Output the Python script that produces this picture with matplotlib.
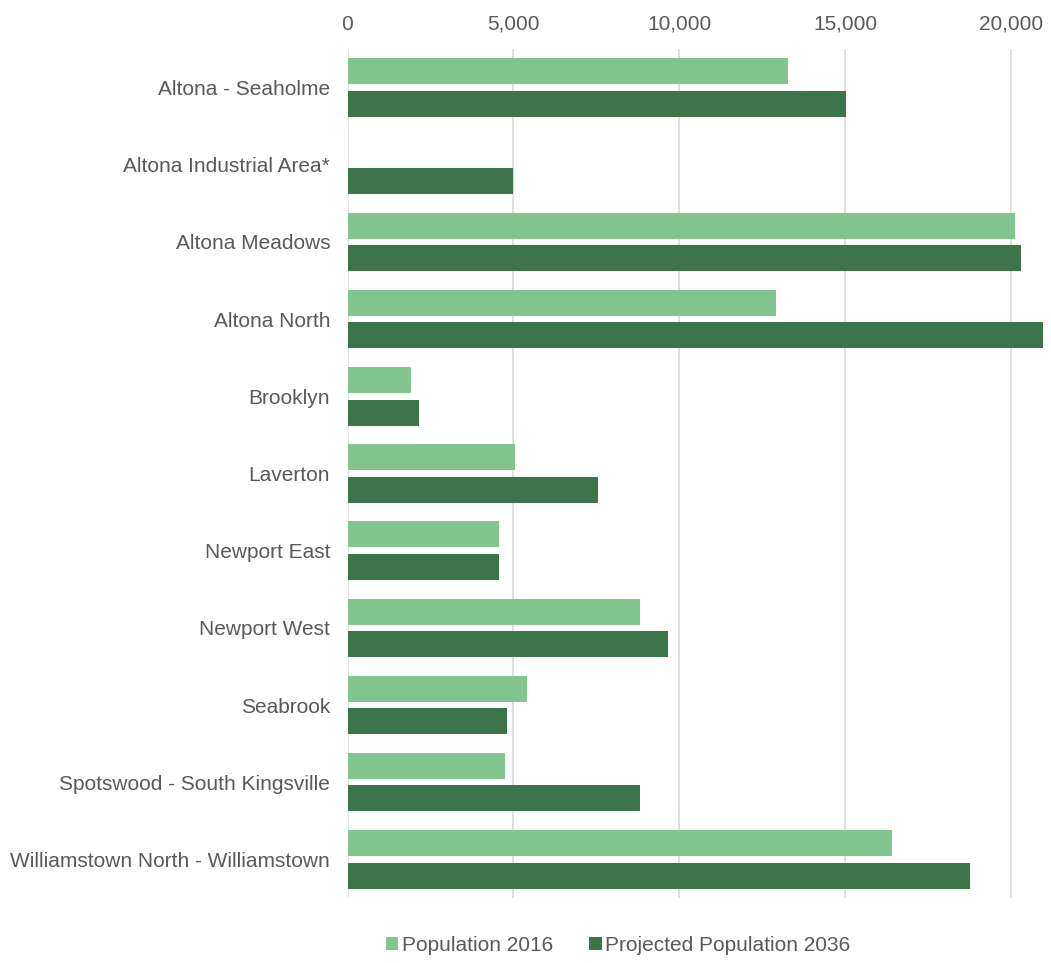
import matplotlib
matplotlib.use("Agg")
import matplotlib.pyplot as plt
import numpy as np
from matplotlib.ticker import FuncFormatter

plt.rcParams["font.family"] = ["Liberation Sans", "DejaVu Sans"]

areas = [
    "Altona - Seaholme",
    "Altona Industrial Area*",
    "Altona Meadows",
    "Altona North",
    "Brooklyn",
    "Laverton",
    "Newport East",
    "Newport West",
    "Seabrook",
    "Spotswood - South Kingsville",
    "Williamstown North - Williamstown",
]
pop_2016 = [13280, 0, 20140, 12930, 1920, 5060, 4580, 8830, 5400, 4760, 16420]
pop_2036 = [15040, 4990, 20320, 20960, 2170, 7540, 4580, 9670, 4820, 8830, 18760]

LIGHT = "#82C58F"
DARK = "#3B7549"
TEXT = "#595959"
GRID = "#D9D9D9"

fig = plt.figure(figsize=(10.51, 9.63), dpi=100)
ax = fig.add_axes([347.5 / 1051, 1 - 898 / 963, (1044 - 347.5) / 1051, (898 - 49) / 963])

y = np.arange(len(areas))
h = 0.337
off = 0.21
ax.barh(y - off, pop_2016, height=h, color=LIGHT, linewidth=0,
        label="Population 2016", zorder=3)
ax.barh(y + off, pop_2036, height=h, color=DARK, linewidth=0,
        label="Projected Population 2036", zorder=3)

ax.set_xlim(0, 21000)
ax.set_ylim(len(areas) - 0.5, -0.5)
ax.set_xticks([0, 5000, 10000, 15000, 20000])
ax.xaxis.set_major_formatter(FuncFormatter(lambda v, _: f"{int(v):,}"))
ax.xaxis.tick_top()
ax.set_yticks(y)
ax.set_yticklabels(areas)
ax.tick_params(axis="both", length=0, labelsize=15, colors=TEXT)
ax.tick_params(axis="x", pad=11)
ax.tick_params(axis="y", pad=12.5)
ax.grid(axis="x", color=GRID, linewidth=1.2, zorder=0)
for side in ax.spines:
    ax.spines[side].set_visible(False)

fig.legend(loc="center", bbox_to_anchor=(618 / 1051, 1 - 945 / 963), ncol=2, frameon=False,
           fontsize=15, labelcolor=TEXT, handlelength=0.6, handleheight=0.6,
           handletextpad=0.15, columnspacing=1.75)

fig.savefig("out.png", dpi=100)
